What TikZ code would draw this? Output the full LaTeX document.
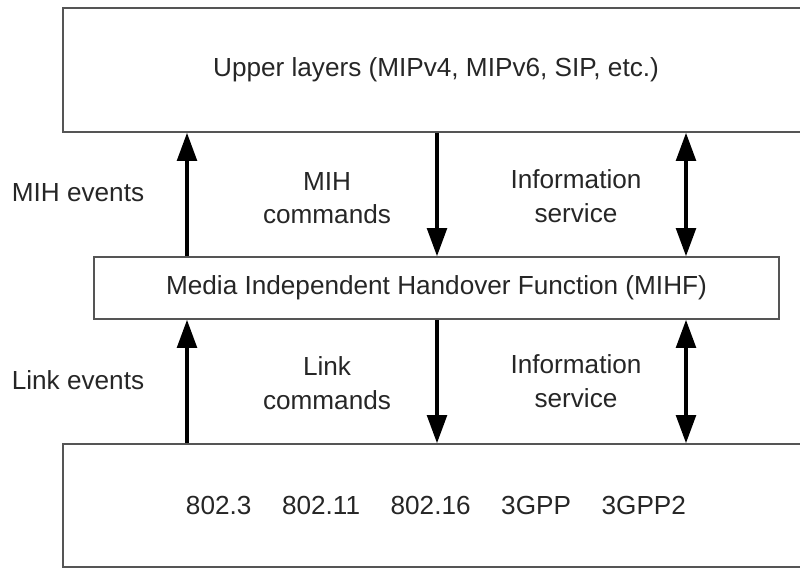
\documentclass[tikz,border=0pt]{standalone}
\usepackage{fontspec}
\setmainfont{Liberation Sans}
\usepackage{tikz}
\usetikzlibrary{positioning, arrows.meta}
\definecolor{framegray}{RGB}{85, 85, 85}
\definecolor{textgray}{RGB}{38, 38, 38}

\begin{document}
\begin{tikzpicture}[
            x=0.025cm, y=-0.025cm,
            every node/.style={font=\fontsize{18.6}{24}\selectfont, text=textgray},
            layerbox/.style={draw=framegray, line width=1.1pt, fill=white, minimum width=18.65cm, minimum height=3.1cm, inner sep=0pt},
            mihfbox/.style={draw=framegray, line width=1.1pt, fill=white, minimum width=17.125cm, minimum height=1.55cm, inner sep=0pt},
            lbl/.style={align=center, inner sep=0pt},
            arrow/.style={-{Triangle[length=20pt, width=14pt]}, line width=2.4pt, black},
            twoway/.style={{Triangle[length=20pt, width=14pt]}-{Triangle[length=20pt, width=14pt]}, line width=2.4pt, black}
        ]
            \useasboundingbox (0,0) rectangle (800,568);

            \node[layerbox] (upper) at (436,70) {Upper layers (MIPv4, MIPv6, SIP, etc.)};
            \node[mihfbox] (mihf) at (436.5,288) {Media Independent Handover Function (MIHF)};
            \node[layerbox, minimum height=3.075cm] (lower) at (436,505.5) {802.3\hspace{1.17em}802.11\hspace{1.17em}802.16\hspace{1.17em}3GPP\hspace{1.17em}3GPP2};

            % columns of the arrows
            \coordinate (evx) at (187,0);
            \coordinate (cmdx) at (437,0);
            \coordinate (infx) at (686,0);

            \node[lbl] (mihev) at (78,193) {MIH events};
            \node[lbl] (mihcmd) at (327,198) {MIH\\commands};
            \node[lbl] (mihinfo) at (576,196) {Information\\service};

            \node[lbl] (linkev) at (78,380) {Link events};
            \node[lbl] (linkcmd) at (327,383) {Link\\commands};
            \node[lbl] (linkinfo) at (576,381) {Information\\service};

            \draw[arrow] (mihf.north -| evx) -- (upper.south -| evx);
            \draw[arrow] (upper.south -| cmdx) -- (mihf.north -| cmdx);
            \draw[twoway] (upper.south -| infx) -- (mihf.north -| infx);

            \draw[arrow] (lower.north -| evx) -- (mihf.south -| evx);
            \draw[arrow] (mihf.south -| cmdx) -- (lower.north -| cmdx);
            \draw[twoway] (mihf.south -| infx) -- (lower.north -| infx);
        \end{tikzpicture}
\end{document}
